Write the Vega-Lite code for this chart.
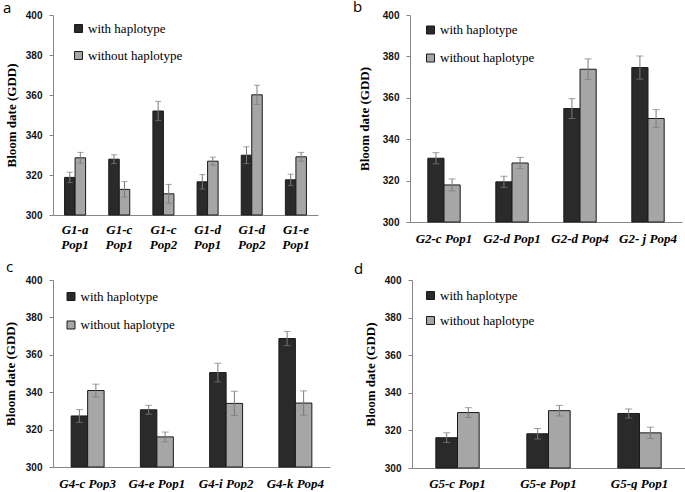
{
  "$schema": "https://vega.github.io/schema/vega-lite/v6.json",
  "background": "white",
  "padding": {"left": 3, "top": 0, "right": 0, "bottom": 0},
  "autosize": {"type": "pad"},
  "data": {
    "values": [
      {"panel": "a", "group": "G1-a Pop1", "type": "with haplotype", "mean": 318.8, "lo": 316.2, "hi": 321.4},
      {"panel": "a", "group": "G1-a Pop1", "type": "without haplotype", "mean": 328.6, "lo": 325.9, "hi": 331.3},
      {"panel": "a", "group": "G1-c Pop1", "type": "with haplotype", "mean": 327.9, "lo": 325.7, "hi": 330.1},
      {"panel": "a", "group": "G1-c Pop1", "type": "without haplotype", "mean": 312.8, "lo": 308.9, "hi": 316.7},
      {"panel": "a", "group": "G1-c Pop2", "type": "with haplotype", "mean": 352.0, "lo": 347.2, "hi": 356.8},
      {"panel": "a", "group": "G1-c Pop2", "type": "without haplotype", "mean": 310.6, "lo": 305.9, "hi": 315.3},
      {"panel": "a", "group": "G1-d Pop1", "type": "with haplotype", "mean": 316.6, "lo": 313.0, "hi": 320.2},
      {"panel": "a", "group": "G1-d Pop1", "type": "without haplotype", "mean": 326.9, "lo": 324.9, "hi": 328.9},
      {"panel": "a", "group": "G1-d Pop2", "type": "with haplotype", "mean": 329.9, "lo": 325.7, "hi": 334.1},
      {"panel": "a", "group": "G1-d Pop2", "type": "without haplotype", "mean": 360.1, "lo": 355.3, "hi": 364.9},
      {"panel": "a", "group": "G1-e Pop1", "type": "with haplotype", "mean": 317.6, "lo": 314.8, "hi": 320.4},
      {"panel": "a", "group": "G1-e Pop1", "type": "without haplotype", "mean": 329.1, "lo": 326.9, "hi": 331.3},
      {"panel": "b", "group": "G2-c Pop1", "type": "with haplotype", "mean": 330.8, "lo": 328.1, "hi": 333.5},
      {"panel": "b", "group": "G2-c Pop1", "type": "without haplotype", "mean": 317.9, "lo": 315.0, "hi": 320.8},
      {"panel": "b", "group": "G2-d Pop1", "type": "with haplotype", "mean": 319.4, "lo": 316.7, "hi": 322.1},
      {"panel": "b", "group": "G2-d Pop1", "type": "without haplotype", "mean": 328.5, "lo": 325.8, "hi": 331.2},
      {"panel": "b", "group": "G2-d Pop4", "type": "with haplotype", "mean": 354.8, "lo": 350.0, "hi": 359.6},
      {"panel": "b", "group": "G2-d Pop4", "type": "without haplotype", "mean": 373.8, "lo": 368.8, "hi": 378.8},
      {"panel": "b", "group": "G2- j Pop4", "type": "with haplotype", "mean": 374.6, "lo": 369.0, "hi": 380.2},
      {"panel": "b", "group": "G2- j Pop4", "type": "without haplotype", "mean": 350.0, "lo": 345.7, "hi": 354.3},
      {"panel": "c", "group": "G4-c Pop3", "type": "with haplotype", "mean": 327.3, "lo": 323.9, "hi": 330.7},
      {"panel": "c", "group": "G4-c Pop3", "type": "without haplotype", "mean": 340.9, "lo": 337.5, "hi": 344.3},
      {"panel": "c", "group": "G4-e Pop1", "type": "with haplotype", "mean": 330.6, "lo": 328.2, "hi": 333.0},
      {"panel": "c", "group": "G4-e Pop1", "type": "without haplotype", "mean": 316.1, "lo": 313.5, "hi": 318.7},
      {"panel": "c", "group": "G4-i Pop2", "type": "with haplotype", "mean": 350.5, "lo": 345.5, "hi": 355.5},
      {"panel": "c", "group": "G4-i Pop2", "type": "without haplotype", "mean": 334.0, "lo": 327.5, "hi": 340.5},
      {"panel": "c", "group": "G4-k Pop4", "type": "with haplotype", "mean": 368.7, "lo": 364.9, "hi": 372.5},
      {"panel": "c", "group": "G4-k Pop4", "type": "without haplotype", "mean": 334.2, "lo": 327.7, "hi": 340.7},
      {"panel": "d", "group": "G5-c Pop1", "type": "with haplotype", "mean": 316.1, "lo": 313.5, "hi": 318.7},
      {"panel": "d", "group": "G5-c Pop1", "type": "without haplotype", "mean": 329.5, "lo": 326.9, "hi": 332.1},
      {"panel": "d", "group": "G5-e Pop1", "type": "with haplotype", "mean": 318.2, "lo": 315.4, "hi": 321.0},
      {"panel": "d", "group": "G5-e Pop1", "type": "without haplotype", "mean": 330.5, "lo": 327.7, "hi": 333.3},
      {"panel": "d", "group": "G5-g Pop1", "type": "with haplotype", "mean": 329.0, "lo": 326.6, "hi": 331.4},
      {"panel": "d", "group": "G5-g Pop1", "type": "without haplotype", "mean": 318.7, "lo": 315.7, "hi": 321.7}
    ]
  },
  "vconcat": [
    {
      "hconcat": [
        {
          "width": 265, "height": 200,
          "title": {"text": "a", "dx": -50, "offset": -6},
          "transform": [{"filter": "datum.panel == 'a'"}],
          "encoding": {
            "x": {"field": "group", "type": "nominal", "sort": null, "title": null,
                  "scale": {"paddingInner": 0.524, "paddingOuter": 0.262},
                  "axis": {"labelExpr": "split(datum.label, ' ')", "labelLineHeight": 15, "labelPadding": 8}},
            "xOffset": {"field": "type", "type": "nominal", "sort": ["with haplotype", "without haplotype"]}
          },
          "layer": [
            {"mark": {"type": "bar", "stroke": "#1a1a1a", "strokeWidth": 1},
             "encoding": {
               "y": {"field": "mean", "type": "quantitative", "title": "Bloom date (GDD)",
                     "scale": {"domain": [300, 400], "nice": false},
                     "axis": {"values": [300, 320, 340, 360, 380, 400], "titlePadding": 7}},
               "y2": {"datum": 300},
               "color": {"field": "type", "type": "nominal",
                         "scale": {"domain": ["with haplotype", "without haplotype"], "range": ["#2a2a2a", "#a6a6a6"]},
                         "legend": {"orient": "none", "legendX": 19, "legendY": 7, "rowPadding": 13}}
             }},
            {"mark": {"type": "rule", "color": "#7a7a7a", "strokeWidth": 1},
             "encoding": {"y": {"field": "lo", "type": "quantitative", "title": "Bloom date (GDD)", "axis": {"values": [300, 320, 340, 360, 380, 400], "titlePadding": 7}}, "y2": {"field": "hi"}}},
            {"mark": {"type": "tick", "color": "#7a7a7a", "thickness": 1, "size": 6},
             "encoding": {"y": {"field": "lo", "type": "quantitative", "title": "Bloom date (GDD)", "axis": {"values": [300, 320, 340, 360, 380, 400], "titlePadding": 7}}}},
            {"mark": {"type": "tick", "color": "#7a7a7a", "thickness": 1, "size": 6},
             "encoding": {"y": {"field": "hi", "type": "quantitative", "title": "Bloom date (GDD)", "axis": {"values": [300, 320, 340, 360, 380, 400], "titlePadding": 7}}}}
          ]
        },
        {
          "width": 272, "height": 207,
          "title": {"text": "b", "dx": -57, "offset": -5.3},
          "transform": [{"filter": "datum.panel == 'b'"}],
          "encoding": {
            "x": {"field": "group", "type": "nominal", "sort": null, "title": null,
                  "scale": {"paddingInner": 0.524, "paddingOuter": 0.262},
                  "axis": {"labelPadding": 10}},
            "xOffset": {"field": "type", "type": "nominal", "sort": ["with haplotype", "without haplotype"]}
          },
          "layer": [
            {"mark": {"type": "bar", "stroke": "#1a1a1a", "strokeWidth": 1},
             "encoding": {
               "y": {"field": "mean", "type": "quantitative", "title": "Bloom date (GDD)",
                     "scale": {"domain": [300, 400], "nice": false},
                     "axis": {"values": [300, 320, 340, 360, 380, 400], "titlePadding": 11}},
               "y2": {"datum": 300},
               "color": {"field": "type", "type": "nominal",
                         "scale": {"domain": ["with haplotype", "without haplotype"], "range": ["#2a2a2a", "#a6a6a6"]},
                         "legend": {"orient": "none", "legendX": 14, "legendY": 8.5, "rowPadding": 14}}
             }},
            {"mark": {"type": "rule", "color": "#7a7a7a", "strokeWidth": 1},
             "encoding": {"y": {"field": "lo", "type": "quantitative", "title": "Bloom date (GDD)", "axis": {"values": [300, 320, 340, 360, 380, 400], "titlePadding": 11}}, "y2": {"field": "hi"}}},
            {"mark": {"type": "tick", "color": "#7a7a7a", "thickness": 1, "size": 7},
             "encoding": {"y": {"field": "lo", "type": "quantitative", "title": "Bloom date (GDD)", "axis": {"values": [300, 320, 340, 360, 380, 400], "titlePadding": 11}}}},
            {"mark": {"type": "tick", "color": "#7a7a7a", "thickness": 1, "size": 7},
             "encoding": {"y": {"field": "hi", "type": "quantitative", "title": "Bloom date (GDD)", "axis": {"values": [300, 320, 340, 360, 380, 400], "titlePadding": 11}}}}
          ]
        }
      ],
      "spacing": 35,
      "resolve": {"scale": {"x": "independent", "y": "independent", "xOffset": "independent"}, "legend": {"color": "independent"}}
    },
    {
      "hconcat": [
        {
          "width": 277, "height": 187,
          "title": {"text": "c", "dx": -47, "offset": 0},
          "transform": [{"filter": "datum.panel == 'c'"}],
          "encoding": {
            "x": {"field": "group", "type": "nominal", "sort": null, "title": null,
                  "scale": {"paddingInner": 0.524, "paddingOuter": 0.262},
                  "axis": {"labelPadding": 10}},
            "xOffset": {"field": "type", "type": "nominal", "sort": ["with haplotype", "without haplotype"]}
          },
          "layer": [
            {"mark": {"type": "bar", "stroke": "#1a1a1a", "strokeWidth": 1},
             "encoding": {
               "y": {"field": "mean", "type": "quantitative", "title": "Bloom date (GDD)",
                     "scale": {"domain": [300, 400], "nice": false},
                     "axis": {"values": [300, 320, 340, 360, 380, 400], "titlePadding": 8}},
               "y2": {"datum": 300},
               "color": {"field": "type", "type": "nominal",
                         "scale": {"domain": ["with haplotype", "without haplotype"], "range": ["#2a2a2a", "#a6a6a6"]},
                         "legend": {"orient": "none", "legendX": 11.5, "legendY": 10, "rowPadding": 14.5}}
             }},
            {"mark": {"type": "rule", "color": "#7a7a7a", "strokeWidth": 1},
             "encoding": {"y": {"field": "lo", "type": "quantitative", "title": "Bloom date (GDD)", "axis": {"values": [300, 320, 340, 360, 380, 400], "titlePadding": 8}}, "y2": {"field": "hi"}}},
            {"mark": {"type": "tick", "color": "#7a7a7a", "thickness": 1, "size": 7},
             "encoding": {"y": {"field": "lo", "type": "quantitative", "title": "Bloom date (GDD)", "axis": {"values": [300, 320, 340, 360, 380, 400], "titlePadding": 8}}}},
            {"mark": {"type": "tick", "color": "#7a7a7a", "thickness": 1, "size": 7},
             "encoding": {"y": {"field": "hi", "type": "quantitative", "title": "Bloom date (GDD)", "axis": {"values": [300, 320, 340, 360, 380, 400], "titlePadding": 8}}}}
          ]
        },
        {
          "width": 273, "height": 188,
          "title": {"text": "d", "dx": -58, "offset": -2},
          "transform": [{"filter": "datum.panel == 'd'"}],
          "encoding": {
            "x": {"field": "group", "type": "nominal", "sort": null, "title": null,
                  "scale": {"paddingInner": 0.524, "paddingOuter": 0.262},
                  "axis": {"labelPadding": 9}},
            "xOffset": {"field": "type", "type": "nominal", "sort": ["with haplotype", "without haplotype"]}
          },
          "layer": [
            {"mark": {"type": "bar", "stroke": "#1a1a1a", "strokeWidth": 1},
             "encoding": {
               "y": {"field": "mean", "type": "quantitative", "title": "Bloom date (GDD)",
                     "scale": {"domain": [300, 400], "nice": false},
                     "axis": {"values": [300, 320, 340, 360, 380, 400], "titlePadding": 7}},
               "y2": {"datum": 300},
               "color": {"field": "type", "type": "nominal",
                         "scale": {"domain": ["with haplotype", "without haplotype"], "range": ["#2a2a2a", "#a6a6a6"]},
                         "legend": {"orient": "none", "legendX": 12, "legendY": 9, "rowPadding": 11}}
             }},
            {"mark": {"type": "rule", "color": "#7a7a7a", "strokeWidth": 1},
             "encoding": {"y": {"field": "lo", "type": "quantitative", "title": "Bloom date (GDD)", "axis": {"values": [300, 320, 340, 360, 380, 400], "titlePadding": 7}}, "y2": {"field": "hi"}}},
            {"mark": {"type": "tick", "color": "#7a7a7a", "thickness": 1, "size": 7},
             "encoding": {"y": {"field": "lo", "type": "quantitative", "title": "Bloom date (GDD)", "axis": {"values": [300, 320, 340, 360, 380, 400], "titlePadding": 7}}}},
            {"mark": {"type": "tick", "color": "#7a7a7a", "thickness": 1, "size": 7},
             "encoding": {"y": {"field": "hi", "type": "quantitative", "title": "Bloom date (GDD)", "axis": {"values": [300, 320, 340, 360, 380, 400], "titlePadding": 7}}}}
          ]
        }
      ],
      "spacing": 24,
      "resolve": {"scale": {"x": "independent", "y": "independent", "xOffset": "independent"}, "legend": {"color": "independent"}}
    }
  ],
  "spacing": 9,
  "resolve": {"scale": {"x": "independent", "y": "independent", "xOffset": "independent"}, "legend": {"color": "independent"}},
  "config": {
    "view": {"stroke": null},
    "title": {"anchor": "start", "frame": "group", "font": "Open Sans", "fontSize": 15, "fontWeight": "normal", "baseline": "alphabetic", "color": "#000000"},
    "axisX": {"domainColor": "#868686", "ticks": false, "labelAngle": 0, "labelFont": "Liberation Serif", "labelFontSize": 13, "labelFontWeight": "bold", "labelFontStyle": "italic", "labelColor": "#000000", "grid": false},
    "axisY": {"domainColor": "#868686", "tickColor": "#868686", "tickSize": 4, "labelPadding": 7, "labelOverlap": false, "labelFont": "Liberation Sans", "labelFontSize": 10, "labelFontWeight": "bold", "labelColor": "#111111", "grid": false, "titleFont": "Liberation Serif", "titleFontSize": 13, "titleFontWeight": "bold", "titleColor": "#000000"},
    "legend": {"title": null, "padding": 0, "symbolType": "square", "symbolSize": 64, "symbolStrokeColor": "#1a1a1a", "symbolStrokeWidth": 1, "labelFont": "Liberation Serif", "labelFontSize": 13, "labelColor": "#000000", "labelOffset": 3}
  }
}
